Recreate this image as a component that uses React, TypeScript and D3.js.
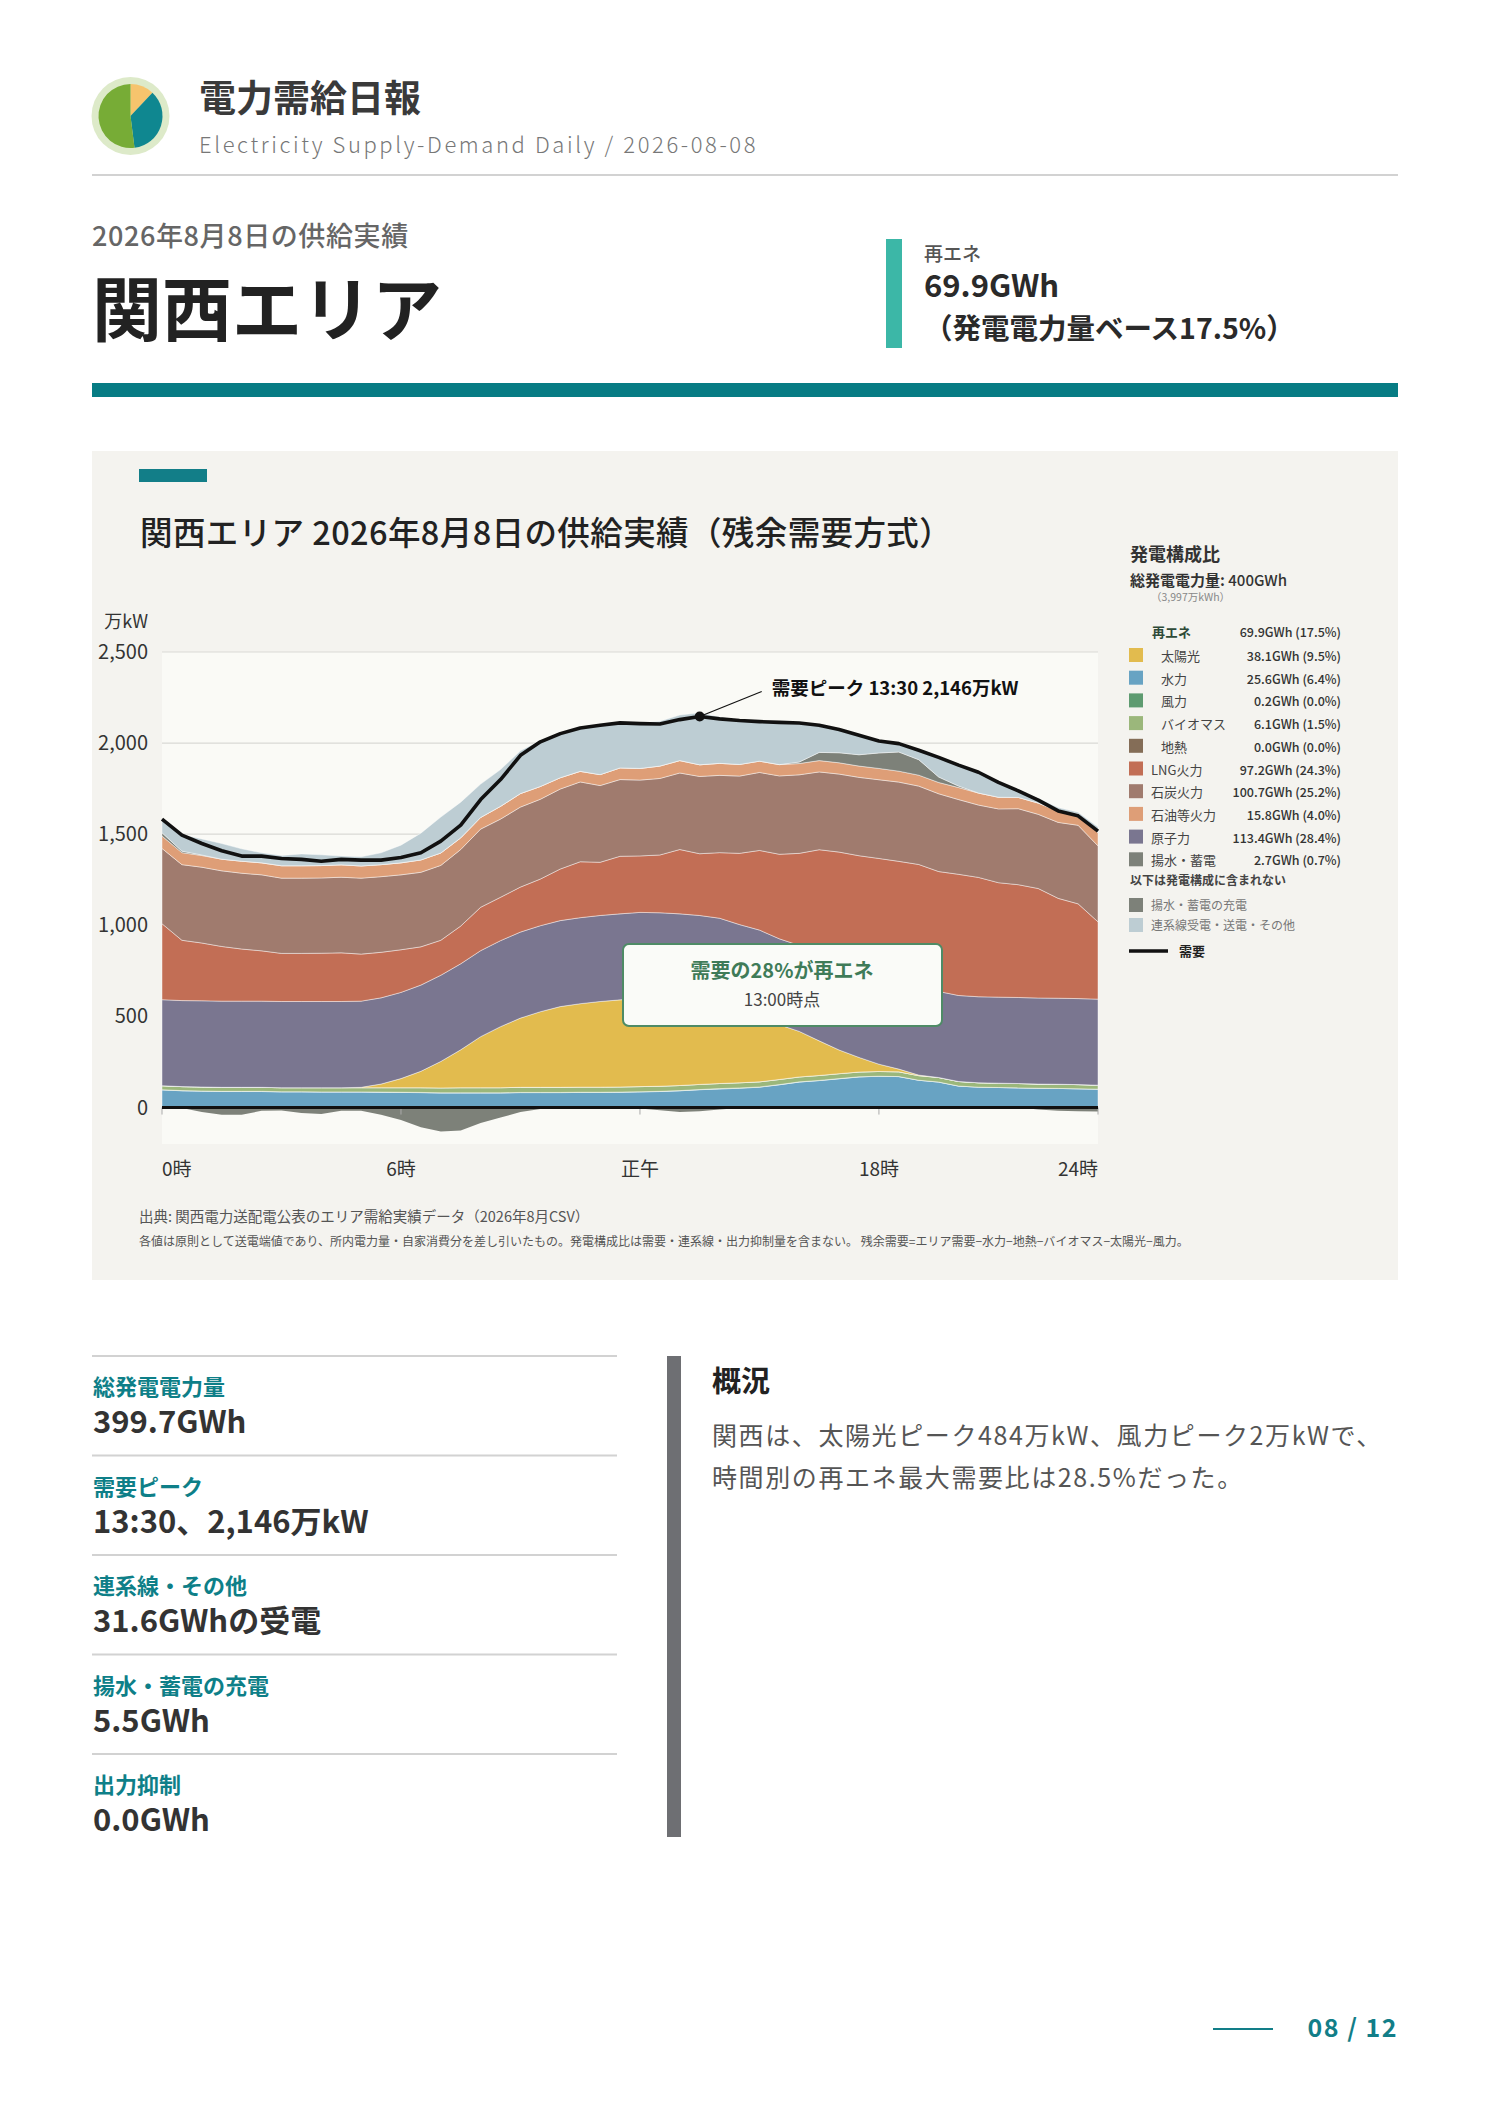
import React, { useEffect, useRef } from 'react';
import * as d3 from 'd3';

const FONT = "'Noto Sans CJK JP', 'Noto Sans', sans-serif";

// 30-minute slots
const TIMES = [
  '0:00', '0:30', '1:00', '1:30', '2:00', '2:30', '3:00', '3:30', '4:00', '4:30', '5:00', '5:30',
  '6:00', '6:30', '7:00', '7:30', '8:00', '8:30', '9:00', '9:30', '10:00', '10:30', '11:00', '11:30',
  '12:00', '12:30', '13:00', '13:30', '14:00', '14:30', '15:00', '15:30', '16:00', '16:30', '17:00', '17:30',
  '18:00', '18:30', '19:00', '19:30', '20:00', '20:30', '21:00', '21:30', '22:00', '22:30', '23:00', '23:30',
];

// 万kW
const DEMAND = [
  1583, 1495, 1449, 1409, 1380, 1380, 1367, 1362, 1352, 1362, 1358, 1358,
  1372, 1398, 1462, 1550, 1690, 1800, 1933, 2007, 2052, 2083, 2098, 2111,
  2107, 2105, 2129, 2146, 2133, 2124, 2118, 2114, 2110, 2098, 2075, 2043,
  2012, 1997, 1961, 1922, 1879, 1840, 1785, 1738, 1687, 1628, 1601, 1517,
];
const HYDRO = [
  97, 92, 90, 88, 88, 88, 86, 86, 85, 85, 85, 84,
  83, 82, 80, 80, 80, 80, 82, 82, 82, 83, 83, 84,
  86, 88, 92, 98, 102, 106, 112, 125, 140, 148, 158, 168,
  172, 170, 150, 140, 118, 112, 110, 108, 106, 105, 103, 101,
];
const WIND = [
  1, 1, 1, 1, 1, 1, 1, 1, 1, 1, 1, 1,
  1, 1, 1, 1, 1, 1, 1, 1, 1, 1, 1, 1,
  1, 1, 1, 1, 2, 2, 1, 1, 1, 1, 1, 1,
  0, 0, 0, 0, 0, 0, 0, 0, 0, 0, 0, 0,
];
const BIOMASS = [
  22, 22, 22, 22, 22, 22, 22, 22, 23, 23, 23, 24,
  25, 26, 27, 28, 28, 28, 28, 28, 28, 28, 28, 28,
  28, 28, 28, 28, 28, 28, 28, 28, 27, 27, 27, 26,
  26, 26, 25, 25, 25, 24, 24, 24, 23, 23, 23, 22,
];
const GEOTHERMAL = [
  0, 0, 0, 0, 0, 0, 0, 0, 0, 0, 0, 0,
  0, 0, 0, 0, 0, 0, 0, 0, 0, 0, 0, 0,
  0, 0, 0, 0, 0, 0, 0, 0, 0, 0, 0, 0,
  0, 0, 0, 0, 0, 0, 0, 0, 0, 0, 0, 0,
];
const SOLAR = [
  0, 0, 0, 0, 0, 0, 0, 0, 0, 0, 2, 20,
  50, 90, 145, 208, 280, 335, 380, 415, 443, 458, 470, 478,
  484, 480, 470, 455, 435, 396, 361, 300, 250, 190, 130, 80,
  40, 15, 3, 0, 0, 0, 0, 0, 0, 0, 0, 0,
];
const NUCLEAR = [
  472, 472, 473, 473, 473, 473, 473, 473, 473, 473, 473, 473,
  473, 473, 473, 472, 472, 472, 472, 472, 472, 472, 472, 472,
  472, 472, 472, 472, 472, 472, 472, 472, 472, 472, 472, 472,
  472, 472, 472, 472, 472, 472, 472, 472, 472, 472, 472, 472,
];
const LNG = [
  417, 331, 317, 300, 286, 276, 264, 264, 265, 267, 258, 250,
  234, 210, 192, 207, 238, 238, 247, 256, 283, 307, 292, 316,
  310, 317, 353, 339, 360, 391, 437, 464, 505, 577, 614, 635,
  657, 668, 684, 658, 665, 655, 628, 619, 601, 548, 520, 424,
];
const COAL = [
  413, 415, 416, 415, 416, 417, 413, 413, 413, 415, 417, 415,
  411, 409, 411, 420, 429, 429, 439, 438, 439, 438, 421, 421,
  416, 420, 420, 424, 424, 424, 428, 430, 431, 427, 428, 430,
  432, 435, 430, 427, 410, 397, 405, 417, 407, 417, 431, 417,
];
const OIL = [
  68, 66, 64, 64, 66, 66, 68, 68, 68, 68, 67, 66,
  66, 68, 68, 64, 64, 70, 74, 70, 62, 58, 60, 64,
  64, 68, 68, 64, 66, 64, 62, 62, 62, 62, 62, 62,
  62, 60, 60, 62, 66, 66, 64, 62, 62, 62, 64, 72,
];
const PUMP_GEN = [
  18, 8, 3, 0, 0, 0, 0, 0, 0, 0, 0, 0,
  0, 0, 0, 0, 0, 0, 0, 0, 0, 0, 0, 0,
  0, 0, 0, 0, 0, 0, 0, 0, 8, 45, 55, 62,
  85, 105, 85, 30, 8, 0, 0, 0, 0, 0, 0, 0,
];
const INTERCONNECT = [
  75, 91, 88, 86, 68, 55, 56, 65, 59, 48, 50, 65,
  97, 147, 197, 196, 183, 202, 235, 253, 245, 238, 271, 249,
  251, 246, 250, 285, 254, 244, 217, 232, 214, 149, 128, 107,
  66, 46, 51, 108, 115, 114, 82, 36, 26, 19, 8, 31,
];
// charging (drawn below zero)
const PUMP_CHARGE = [
  0, 3, 25, 40, 40, 18, 16, 30, 35, 18, 18, 40,
  68, 108, 132, 126, 85, 55, 25, 8, 3, 0, 0, 2,
  5, 15, 25, 20, 10, 3, 0, 0, 0, 0, 0, 0,
  0, 0, 0, 0, 0, 0, 0, 0, 10, 18, 20, 22,
];

const SERIES_KEYS = ['hydro', 'wind', 'biomass', 'geothermal', 'solar', 'nuclear', 'lng', 'coal', 'oil', 'pumpGen', 'interconnect'];
const SERIES_COLORS: Record<string, string> = {
  solar: '#E2BB4E',
  hydro: '#68A3C3',
  wind: '#5E9B70',
  biomass: '#9BB77B',
  geothermal: '#846D57',
  lng: '#C26E55',
  coal: '#A07B6E',
  oil: '#DE9E77',
  nuclear: '#7A7690',
  pumpGen: '#7D8179',
  interconnect: '#BDCDD3',
};

const Y_TICKS = [0, 500, 1000, 1500, 2000, 2500];
const X_TICKS = [0, 6, 12, 18, 23.5];
const X_TICK_LABELS = ['0時', '6時', '正午', '18時', '24時'];

const LEGEND_NAMES = ['太陽光', '水力', '風力', 'バイオマス', '地熱', 'LNG火力', '石炭火力', '石油等火力', '原子力', '揚水・蓄電'];
const LEGEND_KEYS = ['solar', 'hydro', 'wind', 'biomass', 'geothermal', 'lng', 'coal', 'oil', 'nuclear', 'pumpGen'];
const LEGEND_VALUES = ['38.1GWh (9.5%)', '25.6GWh (6.4%)', '0.2GWh (0.0%)', '6.1GWh (1.5%)', '0.0GWh (0.0%)', '97.2GWh (24.3%)', '100.7GWh (25.2%)', '15.8GWh (4.0%)', '113.4GWh (28.4%)', '2.7GWh (0.7%)'];
const LEGEND_SUB = [true, true, true, true, true, false, false, false, false, false];

const STAT_LABELS = ['総発電電力量', '需要ピーク', '連系線・その他', '揚水・蓄電の充電', '出力抑制'];
const STAT_VALUES = ['399.7GWh', '13:30、2,146万kW', '31.6GWhの受電', '5.5GWh', '0.0GWh'];
const SUMMARY_LINES = ['関西は、太陽光ピーク484万kW、風力ピーク2万kWで、', '時間別の再エネ最大需要比は28.5%だった。'];

const LOGO_SLICES = [0.12, 0.36, 0.52];
const LOGO_COLORS = ['#F6C46D', '#0F8790', '#77AC36'];

const RIGHT = 1398;

const App: React.FC = () => {
  const svgRef = useRef<SVGSVGElement>(null);

  useEffect(() => {
    if (!svgRef.current) return;
    const svg = d3.select(svgRef.current);
    svg.selectAll('*').remove();

    const text = (x: number, y: number, s: string, size: number, fill: string, weight = 400, anchor = 'start') =>
      svg.append('text')
        .attr('x', x).attr('y', y)
        .attr('font-family', FONT)
        .attr('font-size', size)
        .attr('font-weight', weight)
        .attr('fill', fill)
        .attr('text-anchor', anchor)
        .text(s);

    svg.append('rect').attr('width', 1488).attr('height', 2105).attr('fill', '#fff');

    // ---- header ----
    const logo = svg.append('g').attr('transform', 'translate(130.5,116)');
    logo.append('circle').attr('r', 39).attr('fill', '#DDEAC9');
    const pie = d3.pie<number>().sort(null)(LOGO_SLICES);
    const arc = d3.arc<d3.PieArcDatum<number>>().innerRadius(0).outerRadius(32);
    logo.selectAll('path').data(pie).join('path')
      .attr('d', arc)
      .attr('fill', (_d, i) => LOGO_COLORS[i]);

    text(199, 112, '電力需給日報', 37, '#3a3a3a', 700);
    text(199, 153, 'Electricity Supply-Demand Daily / 2026-08-08', 22, '#777', 300)
      .attr('letter-spacing', 2.6);
    svg.append('rect').attr('x', 92).attr('y', 174).attr('width', RIGHT - 92).attr('height', 2).attr('fill', '#d2d2d2');

    text(92, 246, '2026年8月8日の供給実績', 27, '#666', 500).attr('letter-spacing', 0.6);
    text(92, 336, '関西エリア', 70, '#222', 700);

    svg.append('rect').attr('x', 886).attr('y', 239).attr('width', 16).attr('height', 109).attr('fill', '#3CB7A7');
    text(924, 261, '再エネ', 19, '#555', 500);
    text(924, 297, '69.9GWh', 31, '#2a2a2a', 700);
    text(924, 339, '（発電電力量ベース17.5%）', 28.5, '#2a2a2a', 700);

    svg.append('rect').attr('x', 92).attr('y', 383).attr('width', RIGHT - 92).attr('height', 14).attr('fill', '#077C84');

    // ---- chart panel ----
    svg.append('rect').attr('x', 92).attr('y', 451).attr('width', RIGHT - 92).attr('height', 829).attr('fill', '#F4F3EF');
    svg.append('rect').attr('x', 139).attr('y', 469).attr('width', 68).attr('height', 13).attr('fill', '#127E88');
    text(140, 545, '関西エリア 2026年8月8日の供給実績（残余需要方式）', 32.5, '#222', 500).attr('letter-spacing', 0.4);

    const xScale = d3.scaleLinear().domain([0, 23.5]).range([162, 1098]);
    const yScale = d3.scaleLinear().domain([-200, 2500]).range([1144, 652]);

    svg.append('rect')
      .attr('x', xScale(0)).attr('y', yScale(2500))
      .attr('width', xScale(23.5) - xScale(0))
      .attr('height', yScale(-200) - yScale(2500))
      .attr('fill', '#FAFAF6');

    const hours = TIMES.map(t => {
      const [h, m] = t.split(':').map(Number);
      return h + m / 60;
    });

    const rows = hours.map((h, i) => ({
      h,
      hydro: HYDRO[i], wind: WIND[i], biomass: BIOMASS[i], geothermal: GEOTHERMAL[i],
      solar: SOLAR[i], nuclear: NUCLEAR[i], lng: LNG[i], coal: COAL[i], oil: OIL[i],
      pumpGen: PUMP_GEN[i], interconnect: INTERCONNECT[i],
      demand: DEMAND[i], charge: PUMP_CHARGE[i],
    }));
    type Row = typeof rows[number];

    // grid
    Y_TICKS.filter(t => t > 0).forEach(t => {
      svg.append('line')
        .attr('x1', xScale(0)).attr('x2', xScale(23.5))
        .attr('y1', yScale(t)).attr('y2', yScale(t))
        .attr('stroke', '#d9d9d5').attr('stroke-width', 1.2);
    });

    const stack = d3.stack<Row>().keys(SERIES_KEYS)(rows);
    const area = d3.area<d3.SeriesPoint<Row>>()
      .x(d => xScale(d.data.h))
      .y0(d => yScale(d[0]))
      .y1(d => yScale(d[1]));

    svg.append('g').selectAll('path').data(stack).join('path')
      .attr('d', d => area(d))
      .attr('fill', d => SERIES_COLORS[d.key])
      .attr('stroke', '#fff')
      .attr('stroke-width', 0.8)
      .attr('stroke-opacity', 0.55);

    const chargeArea = d3.area<Row>()
      .x(d => xScale(d.h))
      .y0(yScale(0))
      .y1(d => yScale(-d.charge));
    svg.append('path').datum(rows)
      .attr('d', chargeArea)
      .attr('fill', SERIES_COLORS.pumpGen);

    // x ticks
    X_TICKS.forEach((t, i) => {
      svg.append('line')
        .attr('x1', xScale(t)).attr('x2', xScale(t))
        .attr('y1', yScale(0)).attr('y2', yScale(0) + 7)
        .attr('stroke', '#aaa').attr('stroke-width', 1);
      const anchor = i === 0 ? 'start' : i === X_TICKS.length - 1 ? 'end' : 'middle';
      text(xScale(t), 1176, X_TICK_LABELS[i], 19, '#333', 400, anchor);
    });

    svg.append('line')
      .attr('x1', xScale(0)).attr('x2', xScale(23.5))
      .attr('y1', yScale(0)).attr('y2', yScale(0))
      .attr('stroke', '#111').attr('stroke-width', 3);

    Y_TICKS.forEach(t => {
      text(148, yScale(t) + 7, d3.format(',')(t), 20, '#333', 400, 'end');
    });
    text(148, 628, '万kW', 18, '#333', 400, 'end');

    const demandLine = d3.line<Row>().x(d => xScale(d.h)).y(d => yScale(d.demand));
    svg.append('path').datum(rows)
      .attr('d', demandLine)
      .attr('fill', 'none')
      .attr('stroke', '#111')
      .attr('stroke-width', 3.6)
      .attr('stroke-linejoin', 'round');

    // peak annotation
    const peak = rows.reduce((a, b) => (b.demand > a.demand ? b : a));
    const px = xScale(peak.h);
    const py = yScale(peak.demand);
    svg.append('line')
      .attr('x1', px).attr('y1', py).attr('x2', px + 62).attr('y2', py - 25)
      .attr('stroke', '#111').attr('stroke-width', 1.2);
    svg.append('circle').attr('cx', px).attr('cy', py).attr('r', 5).attr('fill', '#111');
    text(px + 72, py - 22, `需要ピーク ${TIMES[rows.indexOf(peak)]} ${d3.format(',')(peak.demand)}万kW`, 18.5, '#111', 700);

    // renewables callout
    svg.append('rect')
      .attr('x', 623).attr('y', 944).attr('width', 319).attr('height', 82).attr('rx', 6)
      .attr('fill', '#FAFBF8').attr('stroke', '#4E8B66').attr('stroke-width', 2);
    text(782, 978, '需要の28%が再エネ', 20, '#3F7B58', 700, 'middle');
    text(782, 1006, '13:00時点', 17, '#444', 400, 'middle');

    // legend
    text(1130, 561, '発電構成比', 18, '#333', 700);
    const total = text(1130, 586, '総発電電力量: ', 15, '#333', 700);
    total.append('tspan').attr('font-weight', 500).text('400GWh');
    text(1151, 601, '（3,997万kWh）', 10.5, '#888', 400);

    text(1152, 637, '再エネ', 13, '#2E4A38', 700);
    text(1341, 637, '69.9GWh (17.5%)', 12.5, '#333', 500, 'end');
    LEGEND_NAMES.forEach((name, i) => {
      const y = 661 + i * 22.7;
      svg.append('rect').attr('x', 1129).attr('y', y - 13).attr('width', 14).attr('height', 14)
        .attr('fill', SERIES_COLORS[LEGEND_KEYS[i]]);
      text(LEGEND_SUB[i] ? 1161 : 1151, y, name, 13, '#444', 400);
      text(1341, y, LEGEND_VALUES[i], 12.5, '#333', 500, 'end');
    });
    text(1130, 885, '以下は発電構成に含まれない', 12, '#444', 700);
    svg.append('rect').attr('x', 1129).attr('y', 898).attr('width', 14).attr('height', 14).attr('fill', SERIES_COLORS.pumpGen);
    text(1151, 910, '揚水・蓄電の充電', 12, '#777', 400);
    svg.append('rect').attr('x', 1129).attr('y', 918).attr('width', 14).attr('height', 14).attr('fill', SERIES_COLORS.interconnect);
    text(1151, 930, '連系線受電・送電・その他', 12, '#777', 400);
    svg.append('line').attr('x1', 1129).attr('x2', 1168).attr('y1', 951).attr('y2', 951)
      .attr('stroke', '#111').attr('stroke-width', 3.5);
    text(1179, 956, '需要', 13, '#222', 700);

    text(139, 1222, '出典: 関西電力送配電公表のエリア需給実績データ（2026年8月CSV）', 14.5, '#555', 400);
    text(139, 1246, '各値は原則として送電端値であり、所内電力量・自家消費分を差し引いたもの。発電構成比は需要・連系線・出力抑制量を含まない。 残余需要=エリア需要−水力−地熱−バイオマス−太陽光−風力。', 12, '#555', 400);

    // ---- stats ----
    STAT_LABELS.forEach((label, i) => {
      const top = 1356 + i * 99.5;
      svg.append('rect').attr('x', 92).attr('y', top - 1).attr('width', 525).attr('height', 2).attr('fill', '#d2d2d2');
      text(93, top + 39, label, 22, '#0E7F88', 700);
      text(93, top + 77, STAT_VALUES[i], 31, '#333', 700);
    });

    svg.append('rect').attr('x', 667).attr('y', 1356).attr('width', 14).attr('height', 481).attr('fill', '#6E6F73');
    text(712, 1392, '概況', 29, '#222', 700);
    SUMMARY_LINES.forEach((line, i) => {
      text(712, 1445 + i * 42, line, 25, '#555', 400).attr('letter-spacing', 1.6);
    });

    // page number
    svg.append('line').attr('x1', 1213).attr('x2', 1273).attr('y1', 2029).attr('y2', 2029)
      .attr('stroke', '#127E88').attr('stroke-width', 2);
    text(RIGHT, 2037, '08 / 12', 25, '#127E88', 700, 'end').attr('letter-spacing', 1.5);
  }, []);

  return (
    <svg
      ref={svgRef}
      width={1488}
      height={2105}
      style={{ position: 'absolute', left: 0, top: 0 }}
    ></svg>
  );
};

export default App;
